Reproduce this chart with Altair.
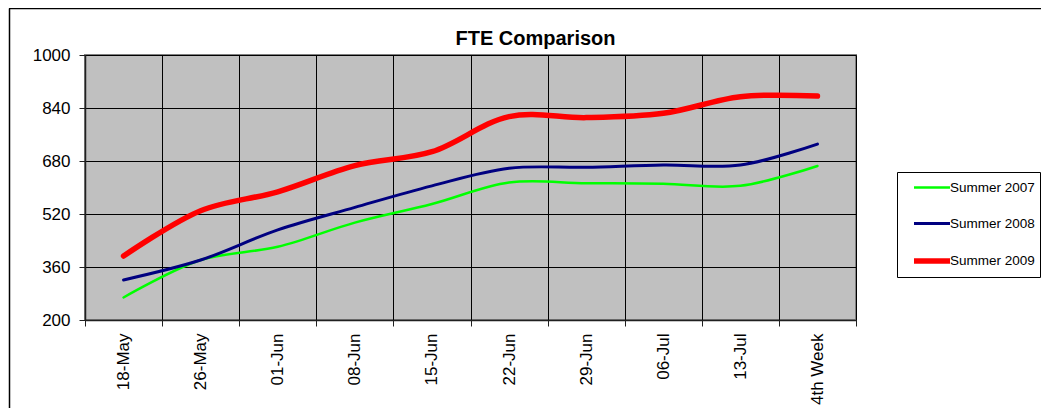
import altair as alt
import pandas as pd

weeks = ["18-May", "26-May", "01-Jun", "08-Jun", "15-Jun", "22-Jun",
         "29-Jun", "06-Jul", "13-Jul", "4th Week"]
summer_2007 = [268, 381, 421, 494, 550, 615, 613, 611, 605, 665]
summer_2008 = [321, 381, 472, 540, 605, 658, 661, 668, 668, 731]
summer_2009 = [393, 530, 587, 666, 708, 814, 811, 824, 874, 876]
series_names = ["Summer 2007", "Summer 2008", "Summer 2009"]
series_colors = ["#00FF00", "#000080", "#FF0000"]
series_widths = [2.5, 3, 5.5]
y_ticks = [200, 360, 520, 680, 840, 1000]

rows = []
for name, vals in zip(series_names, [summer_2007, summer_2008, summer_2009]):
    for w, v in zip(weeks, vals):
        rows.append({"week": w, "fte": v, "series": name})
df = pd.DataFrame(rows)

FONT = "Liberation Sans"

legend_opts = dict(
    title=None, orient="none", legendX=812, legendY=117,
    fillColor="white", strokeColor="black", padding=5,
    symbolType="M0,0H4", symbolSize=324, labelFont=FONT,
    labelFontSize=13.5, labelColor="black", labelOffset=24, rowPadding=19,
)

lines = alt.Chart(df).mark_line(interpolate="catmull-rom", strokeCap="round").encode(
    x=alt.X("week:N", sort=weeks,
            scale=alt.Scale(type="band", paddingInner=0, paddingOuter=0),
            axis=alt.Axis(title=None, tickBand="extent", grid=True, labelAngle=270,
                          labelFontSize=17, labelPadding=7, tickSize=6)),
    y=alt.Y("fte:Q", scale=alt.Scale(domain=[200, 1000], nice=False, zero=False),
            axis=alt.Axis(title=None, values=y_ticks, grid=True, format="d",
                          labelFontSize=17, labelPadding=9, tickSize=6)),
    color=alt.Color("series:N", scale=alt.Scale(domain=series_names, range=series_colors),
                    legend=alt.Legend(**legend_opts)),
    strokeWidth=alt.StrokeWidth("series:N",
                                scale=alt.Scale(type="ordinal", domain=series_names,
                                                range=series_widths),
                                legend=alt.Legend(**legend_opts)),
)

frame_df = pd.DataFrame({"a": [0]})
top_line = alt.Chart(frame_df).mark_rule(color="black", strokeWidth=1.5).encode(
    x=alt.value(-76), x2=alt.value(956), y=alt.value(-46.5))
left_line = alt.Chart(frame_df).mark_rule(color="black", strokeWidth=1.5).encode(
    x=alt.value(-75.5), y=alt.value(-46.5), y2=alt.value(353))

chart = alt.layer(lines, top_line, left_line).properties(
    width=771, height=265,
    background="white",
    autosize=alt.AutoSizeParams(type="none"),
    padding={"left": 77, "top": 47, "right": 185, "bottom": 88},
    title=alt.TitleParams("FTE Comparison", fontSize=20, font=FONT, fontWeight="bold",
                          anchor="middle", dx=65, offset=-57, baseline="alphabetic",
                          color="black"),
).configure_view(
    fill="#C0C0C0", stroke="#808080", strokeWidth=2
).configure_axis(
    labelFont=FONT, labelColor="black", domainColor="#202020", domainWidth=1.5,
    tickColor="#202020", tickWidth=1, gridColor="#000000", gridWidth=1, gridOpacity=1
)

chart.save("out.html", embed_options={"renderer": "svg", "actions": False})
